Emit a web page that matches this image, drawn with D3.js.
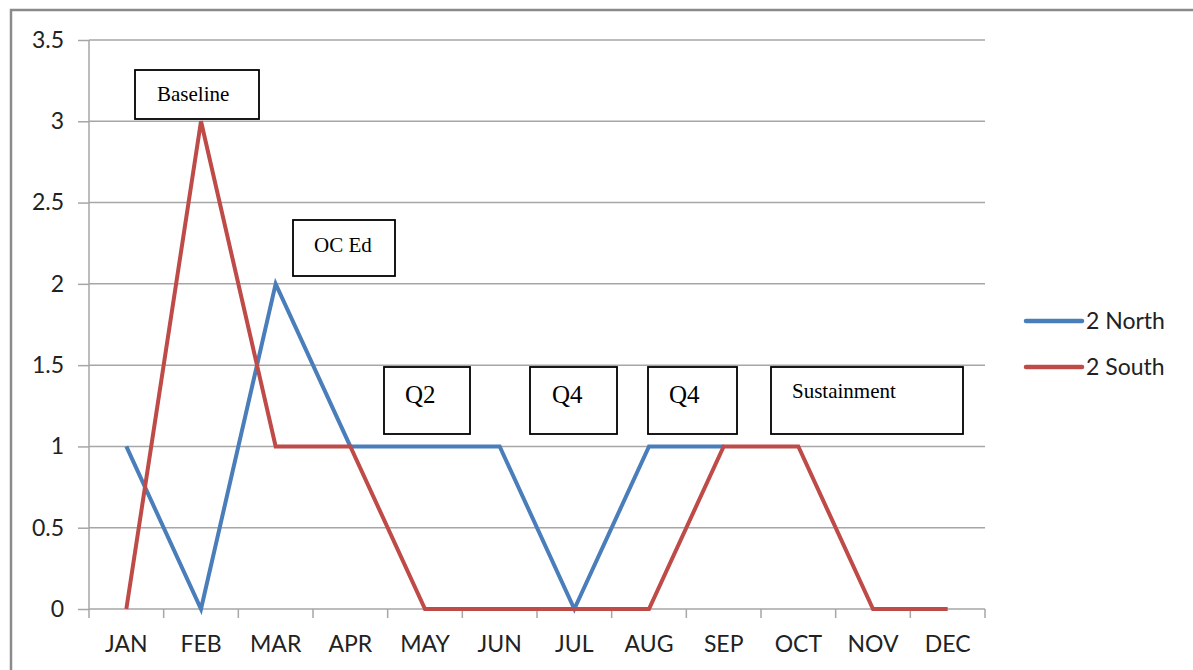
<!DOCTYPE html>
<html><head><meta charset="utf-8">
<script src="https://cdn.jsdelivr.net/npm/d3@7"></script>
<style>body{margin:0;background:#fff}svg{display:block}</style>
</head><body>
<svg id="c" width="1193" height="670"></svg>
<script>
const months = ["JAN","FEB","MAR","APR","MAY","JUN","JUL","AUG","SEP","OCT","NOV","DEC"];
const northValues = [1,0,2,1,1,1,0,1,1];
const southValues = [0,3,1,1,0,0,0,0,1,1,0,0];
const yTicks = [0,0.5,1,1.5,2,2.5,3,3.5];
const seriesNames = ["2 North","2 South"];
const seriesColors = ["#4a7ebb","#be4b48"];
const annotations = [
  {label:"Baseline", x0:135, y0:70, x1:259, y1:119, tx:157, ty:101, fs:21},
  {label:"OC Ed", x0:293, y0:220, x1:395, y1:276, tx:314, ty:252, fs:21},
  {label:"Q2", x0:384, y0:367, x1:470, y1:434, tx:405, ty:403, fs:25},
  {label:"Q4", x0:530, y0:367, x1:617, y1:434, tx:552, ty:403, fs:25},
  {label:"Q4", x0:648, y0:367, x1:737, y1:434, tx:669, ty:403, fs:25},
  {label:"Sustainment", x0:771, y0:367, x1:963, y1:434, tx:792, ty:398, fs:21}
];

const svg = d3.select("#c");
const L = 89, R = 985, T = 40, B = 609;
const x = d3.scaleBand().domain(months).range([L, R]);
const y = d3.scaleLinear().domain([0,3.5]).range([B, T]);
const font = "Lato, 'Open Sans', sans-serif";

// outer border
svg.append("path").attr("d","M11,670 L11,10 L1193,10").attr("fill","none").attr("stroke","#8a8a8a").attr("stroke-width",2.5);

// gridlines
svg.append("g").selectAll("line").data(yTicks.filter(d=>d>0)).join("line")
  .attr("x1",L).attr("x2",R).attr("y1",d=>y(d)).attr("y2",d=>y(d))
  .attr("stroke","#a6a6a6").attr("stroke-width",1.5);

// y axis
const ya = svg.append("g").attr("transform",`translate(${L},0)`)
  .call(d3.axisLeft(y).tickValues(yTicks).tickSize(11).tickPadding(14).tickFormat(d=>String(d)));
ya.select(".domain").attr("stroke","#a6a6a6").attr("stroke-width",1.5).attr("d",`M-0,${T}V${B}`);
ya.selectAll(".tick line").attr("stroke","#a6a6a6").attr("stroke-width",1.5);
ya.selectAll("text").attr("font-family",font).attr("font-size",23).attr("fill","#222");

// x axis
const xa = svg.append("g").attr("transform",`translate(0,${B})`)
  .call(d3.axisBottom(x).tickSize(0).tickPadding(27));
xa.select(".domain").attr("stroke","#a6a6a6").attr("stroke-width",1.5).attr("d",`M${L},0H${R}`);
xa.selectAll("text").attr("font-family",font).attr("font-size",23).attr("fill","#222");
// boundary ticks
svg.append("g").selectAll("line").data(months.map((m,i)=>i).concat([months.length])).join("line")
  .attr("x1",i=> i<months.length ? x(months[i]) : R).attr("x2",i=> i<months.length ? x(months[i]) : R)
  .attr("y1",B).attr("y2",B+9).attr("stroke","#a6a6a6").attr("stroke-width",1.5);

const line = d3.line().x((d,i)=>x(months[i])+x.bandwidth()/2).y(d=>y(d));
svg.append("path").datum(northValues).attr("d",line).attr("fill","none")
  .attr("stroke",seriesColors[0]).attr("stroke-width",4).attr("stroke-linejoin","miter");
svg.append("path").datum(southValues).attr("d",line).attr("fill","none")
  .attr("stroke",seriesColors[1]).attr("stroke-width",4).attr("stroke-linejoin","miter");

// annotations
const ag = svg.append("g");
annotations.forEach(a=>{
  ag.append("rect").attr("x",a.x0).attr("y",a.y0).attr("width",a.x1-a.x0).attr("height",a.y1-a.y0)
    .attr("fill","#fff").attr("stroke","#000").attr("stroke-width",1.8);
  ag.append("text").attr("x",a.tx).attr("y",a.ty).text(a.label)
    .attr("font-family","'Liberation Serif', 'Times New Roman', serif").attr("font-size",a.fs).attr("fill","#000");
});

// legend
const lg = svg.append("g");
seriesNames.forEach((n,i)=>{
  const ly = 321 + i*46;
  lg.append("line").attr("x1",1026).attr("x2",1082).attr("y1",ly).attr("y2",ly)
    .attr("stroke",seriesColors[i]).attr("stroke-width",4.5).attr("stroke-linecap","round");
  lg.append("text").attr("x",1086).attr("y",ly+8).text(n)
    .attr("font-family",font).attr("font-size",23).attr("fill","#222");
});
</script>
</body></html>
